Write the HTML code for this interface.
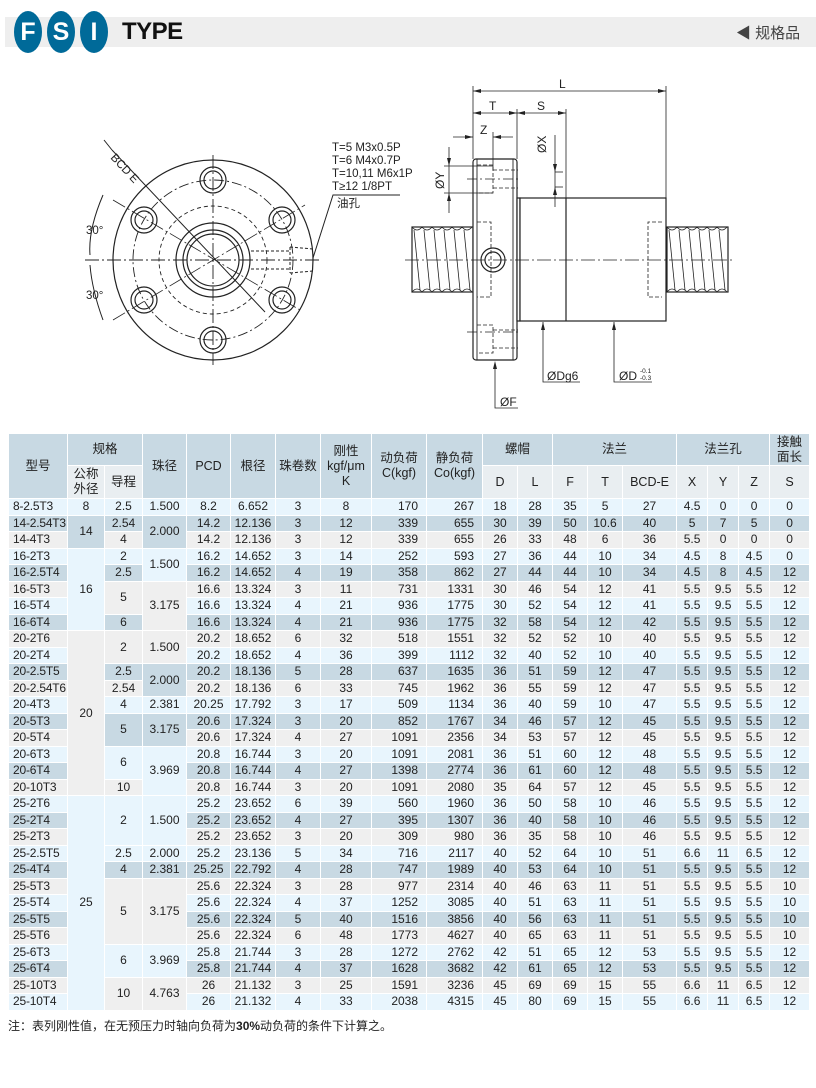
<!DOCTYPE html>
<html><head><meta charset="utf-8"><style>
*{margin:0;padding:0;box-sizing:border-box}
body{width:816px;height:1088px;background:#fff;position:relative;overflow:hidden;font-family:"Liberation Sans","Noto Sans CJK SC",sans-serif;color:#222}
.bar{position:absolute;left:5px;top:17px;width:811px;height:30px;background:#eeeeee}
.c{position:absolute;top:11px;width:28px;height:42px;border-radius:50%;background:#006a99;color:#fff;font-weight:bold;font-size:25px;text-align:center;line-height:42px}
.type{position:absolute;left:122px;top:18px;font-size:24px;font-weight:bold;color:#111;letter-spacing:-0.5px}
.gp{position:absolute;left:736px;top:22px;font-size:15px;color:#444}
table{position:absolute;left:8px;top:433px;border-collapse:collapse;table-layout:fixed;width:801px;font-size:12px}
td,th{border:1px solid #fff;text-align:center;padding:0;font-weight:normal;overflow:hidden;white-space:nowrap}
th{background:#c8d9e3;font-size:12.5px;line-height:15px;color:#222}
th.s{background:#e9eef1}
tr.b td{height:16.5px;line-height:15px}
.L{background:#e8f5fd}.D{background:#c8d9e3}.G{background:#efefef}
td.m{text-align:left;padding-left:4px;letter-spacing:-0.2px}
td.r{text-align:right;padding-right:8px}
.note{position:absolute;left:8px;top:1017px;font-size:12px;color:#222}
</style></head><body>
<div class="bar"></div>
<div class="c" style="left:14px">F</div>
<div class="c" style="left:47px">S</div>
<div class="c" style="left:80px">I</div>
<div class="type">TYPE</div>
<div class="gp">◀ 规格品</div>

<svg style="position:absolute;left:0;top:0" width="816" height="430" font-family="Liberation Sans, Noto Sans CJK SC, sans-serif">
<g fill="none" stroke="#222" stroke-width="1.2">
<circle cx="213" cy="260" r="100"/>
<circle cx="213" cy="260" r="80" stroke-dasharray="10,3,2,3" stroke-width="0.9"/>
<circle cx="213" cy="260" r="54" stroke-dasharray="4,3" stroke-width="0.9"/>
<circle cx="213" cy="260" r="37"/>
<circle cx="213" cy="260" r="30"/>
<circle cx="213" cy="260" r="26"/>
<g>
<circle cx="213" cy="180" r="13"/><circle cx="213" cy="180" r="9"/>
<circle cx="213" cy="340" r="13"/><circle cx="213" cy="340" r="9"/>
<circle cx="144" cy="220" r="13"/><circle cx="144" cy="220" r="9"/>
<circle cx="282" cy="220" r="13"/><circle cx="282" cy="220" r="9"/>
<circle cx="144" cy="300" r="13"/><circle cx="144" cy="300" r="9"/>
<circle cx="282" cy="300" r="13"/><circle cx="282" cy="300" r="9"/>
</g>
<line x1="85" y1="260" x2="320" y2="260" stroke-dasharray="14,3,2,3" stroke-width="0.9"/>
<line x1="213" y1="155" x2="213" y2="365" stroke-dasharray="14,3,2,3" stroke-width="0.9"/>
<line x1="113" y1="200" x2="300" y2="310" stroke-dasharray="14,3,2,3" stroke-width="0.8"/>
<line x1="113" y1="320" x2="305" y2="205" stroke-dasharray="14,3,2,3" stroke-width="0.8"/>
<line x1="112" y1="150" x2="265" y2="312" stroke-width="1"/>
<line x1="104" y1="140" x2="112" y2="150" stroke-width="1"/>
<path d="M103 195 Q88 230 90 255 M90 265 Q92 290 103 320" stroke-width="1"/>
<path d="M251 251 H290 M251 269 H290 M290 247 V273 M290 247 L313 249 M290 273 L313 271" stroke-dasharray="3,2" stroke-width="1"/>
<path d="M313 258 L333 195 H400" stroke-width="1"/>
</g>
<g font-size="11.5" fill="#222">
<text x="110" y="158" transform="rotate(47 110 158)">BCD E</text>
<text x="86" y="234">30°</text>
<text x="86" y="299">30°</text>
<text x="332" y="151">T=5  M3x0.5P</text>
<text x="332" y="164">T=6  M4x0.7P</text>
<text x="332" y="177">T=10,11  M6x1P</text>
<text x="332" y="190">T≥12  1/8PT</text>
<text x="337" y="207">油孔</text>
</g>
<g fill="none" stroke="#222" stroke-width="1.2">
<rect x="412" y="227" width="61" height="65" fill="#fff"/>
<rect x="667" y="227" width="61" height="65" fill="#fff"/>
<g stroke-width="0.8">
<path d="M414 230 L420 290 M424 230 L430 290 M434 230 L440 290 M444 230 L450 290 M454 230 L460 290 M464 230 L470 290"/>
<path d="M669 230 L675 290 M679 230 L685 290 M689 230 L695 290 M699 230 L705 290 M709 230 L715 290 M719 230 L725 290"/>
<path d="M412 227 q5 6 10 0 q5 6 10 0 q5 6 10 0 q5 6 10 0 q5 6 10 0 q5 6 10 0 M412 292 q5 -6 10 0 q5 -6 10 0 q5 -6 10 0 q5 -6 10 0 q5 -6 10 0 q5 -6 10 0"/>
<path d="M667 227 q5 6 10 0 q5 6 10 0 q5 6 10 0 q5 6 10 0 q5 6 10 0 q5 6 10 0 M667 292 q5 -6 10 0 q5 -6 10 0 q5 -6 10 0 q5 -6 10 0 q5 -6 10 0 q5 -6 10 0"/>
</g>
<rect x="473" y="159" width="44" height="201" rx="3" fill="#fff"/>
<rect x="517" y="198" width="3" height="123" fill="#fff"/>
<rect x="520" y="198" width="146" height="123" fill="#fff"/>
<line x1="566" y1="198" x2="566" y2="321"/>
<line x1="477" y1="159" x2="477" y2="360" stroke-width="0.9"/>
<line x1="513" y1="159" x2="513" y2="360" stroke-width="0.9"/>
<g stroke-dasharray="4,2" stroke-width="0.8">
<path d="M477 222 H491 V297 H477"/>
<path d="M662 222 H648 V297 H662"/>
<path d="M477 165 H493 V193 H477 M493 170 H518 M493 188 H518"/>
<path d="M477 325 H493 V353 H477 M493 330 H518 M493 348 H518"/>
</g>
<circle cx="493" cy="260" r="12"/><circle cx="493" cy="260" r="8"/>
<line x1="405" y1="260" x2="735" y2="260" stroke-dasharray="14,3,2,3" stroke-width="0.8"/>
<line x1="467" y1="179" x2="520" y2="179" stroke-dasharray="10,3,2,3" stroke-width="0.7"/>
<line x1="467" y1="332" x2="520" y2="332" stroke-dasharray="10,3,2,3" stroke-width="0.7"/>
<g stroke-width="0.8">
<line x1="473" y1="86" x2="473" y2="159"/>
<line x1="666" y1="86" x2="666" y2="198"/>
<line x1="473" y1="91" x2="666" y2="91"/>
<line x1="517" y1="109" x2="517" y2="159"/>
<line x1="566" y1="109" x2="566" y2="198"/>
<line x1="473" y1="113" x2="566" y2="113"/>
<line x1="493" y1="132" x2="493" y2="170"/>
<line x1="453" y1="137" x2="473" y2="137"/><line x1="493" y1="137" x2="513" y2="137"/>
<line x1="444" y1="166" x2="493" y2="166"/><line x1="444" y1="193" x2="493" y2="193"/>
<line x1="449" y1="147" x2="449" y2="213"/>
<line x1="555" y1="135" x2="555" y2="207"/>
<line x1="555" y1="172" x2="563" y2="172"/><line x1="555" y1="187" x2="563" y2="187"/>
<path d="M495 363 V408 H518"/>
<path d="M543 322 V382 H580"/>
<path d="M614 322 V382 H652"/>
</g>
<g fill="#222" stroke="none">
<path d="M473 91 l8 -2 v4z M666 91 l-8 -2 v4z M473 113 l8 -2 v4z M517 113 l-8 -2 v4z M517 113 l8 -2 v4z M566 113 l-8 -2 v4z"/>
<path d="M473 137 l-8 -2 v4z M493 137 l8 -2 v4z"/>
<path d="M449 166 l-2 -8 h4z M449 193 l-2 8 h4z M555 172 l-2 -8 h4z M555 187 l-2 8 h4z"/>
<path d="M495 361 l-2 8 h4z M543 322 l-2 8 h4z M614 322 l-2 8 h4z"/>
</g>
</g>
<g font-size="12" fill="#222">
<text x="559" y="88">L</text>
<text x="489" y="110">T</text>
<text x="537" y="110">S</text>
<text x="480" y="134">Z</text>
<text x="546" y="153" transform="rotate(-90 546 153)">ØX</text>
<text x="444" y="189" transform="rotate(-90 444 189)">ØY</text>
<text x="500" y="406">ØF</text>
<text x="547" y="380">ØDg6</text>
<text x="619" y="380">ØD</text>
<text x="640" y="373" font-size="6.5">-0.1</text>
<text x="640" y="380" font-size="6.5">-0.3</text>
</g>
</svg>

<table>
<colgroup><col style="width:59px"><col style="width:37px"><col style="width:38px"><col style="width:44px"><col style="width:44px"><col style="width:45px"><col style="width:45px"><col style="width:51px"><col style="width:55px"><col style="width:56px"><col style="width:35px"><col style="width:35px"><col style="width:35px"><col style="width:35px"><col style="width:54px"><col style="width:31px"><col style="width:31px"><col style="width:31px"><col style="width:40px"></colgroup>
<tr style="height:32px"><th rowspan="2">型号</th><th colspan="2">规格</th><th rowspan="2">珠径</th><th rowspan="2">PCD</th><th rowspan="2">根径</th><th rowspan="2">珠卷数</th><th rowspan="2">刚性<br>kgf/μm<br>K</th><th rowspan="2">动负荷<br>C(kgf)</th><th rowspan="2">静负荷<br>Co(kgf)</th><th colspan="2">螺帽</th><th colspan="3">法兰</th><th colspan="3">法兰孔</th><th>接触<br>面长</th></tr>
<tr style="height:33px"><th class="s">公称<br>外径</th><th class="s">导程</th><th class="s">D</th><th class="s">L</th><th class="s">F</th><th class="s">T</th><th class="s">BCD-E</th><th class="s">X</th><th class="s">Y</th><th class="s">Z</th><th class="s">S</th></tr>
<tr class="b L"><td class="m">8-2.5T3</td><td>8</td><td>2.5</td><td>1.500</td><td>8.2</td><td>6.652</td><td>3</td><td>8</td><td class="r">170</td><td class="r">267</td><td>18</td><td>28</td><td>35</td><td>5</td><td>27</td><td>4.5</td><td>0</td><td>0</td><td>0</td></tr>
<tr class="b D"><td class="m">14-2.54T3</td><td rowspan="2">14</td><td>2.54</td><td rowspan="2">2.000</td><td>14.2</td><td>12.136</td><td>3</td><td>12</td><td class="r">339</td><td class="r">655</td><td>30</td><td>39</td><td>50</td><td>10.6</td><td>40</td><td>5</td><td>7</td><td>5</td><td>0</td></tr>
<tr class="b G"><td class="m">14-4T3</td><td>4</td><td>14.2</td><td>12.136</td><td>3</td><td>12</td><td class="r">339</td><td class="r">655</td><td>26</td><td>33</td><td>48</td><td>6</td><td>36</td><td>5.5</td><td>0</td><td>0</td><td>0</td></tr>
<tr class="b L"><td class="m">16-2T3</td><td rowspan="5">16</td><td>2</td><td rowspan="2">1.500</td><td>16.2</td><td>14.652</td><td>3</td><td>14</td><td class="r">252</td><td class="r">593</td><td>27</td><td>36</td><td>44</td><td>10</td><td>34</td><td>4.5</td><td>8</td><td>4.5</td><td>0</td></tr>
<tr class="b D"><td class="m">16-2.5T4</td><td>2.5</td><td>16.2</td><td>14.652</td><td>4</td><td>19</td><td class="r">358</td><td class="r">862</td><td>27</td><td>44</td><td>44</td><td>10</td><td>34</td><td>4.5</td><td>8</td><td>4.5</td><td>12</td></tr>
<tr class="b G"><td class="m">16-5T3</td><td rowspan="2">5</td><td rowspan="3">3.175</td><td>16.6</td><td>13.324</td><td>3</td><td>11</td><td class="r">731</td><td class="r">1331</td><td>30</td><td>46</td><td>54</td><td>12</td><td>41</td><td>5.5</td><td>9.5</td><td>5.5</td><td>12</td></tr>
<tr class="b L"><td class="m">16-5T4</td><td>16.6</td><td>13.324</td><td>4</td><td>21</td><td class="r">936</td><td class="r">1775</td><td>30</td><td>52</td><td>54</td><td>12</td><td>41</td><td>5.5</td><td>9.5</td><td>5.5</td><td>12</td></tr>
<tr class="b D"><td class="m">16-6T4</td><td>6</td><td>16.6</td><td>13.324</td><td>4</td><td>21</td><td class="r">936</td><td class="r">1775</td><td>32</td><td>58</td><td>54</td><td>12</td><td>42</td><td>5.5</td><td>9.5</td><td>5.5</td><td>12</td></tr>
<tr class="b G"><td class="m">20-2T6</td><td rowspan="10">20</td><td rowspan="2">2</td><td rowspan="2">1.500</td><td>20.2</td><td>18.652</td><td>6</td><td>32</td><td class="r">518</td><td class="r">1551</td><td>32</td><td>52</td><td>52</td><td>10</td><td>40</td><td>5.5</td><td>9.5</td><td>5.5</td><td>12</td></tr>
<tr class="b L"><td class="m">20-2T4</td><td>20.2</td><td>18.652</td><td>4</td><td>36</td><td class="r">399</td><td class="r">1112</td><td>32</td><td>40</td><td>52</td><td>10</td><td>40</td><td>5.5</td><td>9.5</td><td>5.5</td><td>12</td></tr>
<tr class="b D"><td class="m">20-2.5T5</td><td>2.5</td><td rowspan="2">2.000</td><td>20.2</td><td>18.136</td><td>5</td><td>28</td><td class="r">637</td><td class="r">1635</td><td>36</td><td>51</td><td>59</td><td>12</td><td>47</td><td>5.5</td><td>9.5</td><td>5.5</td><td>12</td></tr>
<tr class="b G"><td class="m">20-2.54T6</td><td>2.54</td><td>20.2</td><td>18.136</td><td>6</td><td>33</td><td class="r">745</td><td class="r">1962</td><td>36</td><td>55</td><td>59</td><td>12</td><td>47</td><td>5.5</td><td>9.5</td><td>5.5</td><td>12</td></tr>
<tr class="b L"><td class="m">20-4T3</td><td>4</td><td>2.381</td><td>20.25</td><td>17.792</td><td>3</td><td>17</td><td class="r">509</td><td class="r">1134</td><td>36</td><td>40</td><td>59</td><td>10</td><td>47</td><td>5.5</td><td>9.5</td><td>5.5</td><td>12</td></tr>
<tr class="b D"><td class="m">20-5T3</td><td rowspan="2">5</td><td rowspan="2">3.175</td><td>20.6</td><td>17.324</td><td>3</td><td>20</td><td class="r">852</td><td class="r">1767</td><td>34</td><td>46</td><td>57</td><td>12</td><td>45</td><td>5.5</td><td>9.5</td><td>5.5</td><td>12</td></tr>
<tr class="b G"><td class="m">20-5T4</td><td>20.6</td><td>17.324</td><td>4</td><td>27</td><td class="r">1091</td><td class="r">2356</td><td>34</td><td>53</td><td>57</td><td>12</td><td>45</td><td>5.5</td><td>9.5</td><td>5.5</td><td>12</td></tr>
<tr class="b L"><td class="m">20-6T3</td><td rowspan="2">6</td><td rowspan="3">3.969</td><td>20.8</td><td>16.744</td><td>3</td><td>20</td><td class="r">1091</td><td class="r">2081</td><td>36</td><td>51</td><td>60</td><td>12</td><td>48</td><td>5.5</td><td>9.5</td><td>5.5</td><td>12</td></tr>
<tr class="b D"><td class="m">20-6T4</td><td>20.8</td><td>16.744</td><td>4</td><td>27</td><td class="r">1398</td><td class="r">2774</td><td>36</td><td>61</td><td>60</td><td>12</td><td>48</td><td>5.5</td><td>9.5</td><td>5.5</td><td>12</td></tr>
<tr class="b G"><td class="m">20-10T3</td><td>10</td><td>20.8</td><td>16.744</td><td>3</td><td>20</td><td class="r">1091</td><td class="r">2080</td><td>35</td><td>64</td><td>57</td><td>12</td><td>45</td><td>5.5</td><td>9.5</td><td>5.5</td><td>12</td></tr>
<tr class="b L"><td class="m">25-2T6</td><td rowspan="13">25</td><td rowspan="3">2</td><td rowspan="3">1.500</td><td>25.2</td><td>23.652</td><td>6</td><td>39</td><td class="r">560</td><td class="r">1960</td><td>36</td><td>50</td><td>58</td><td>10</td><td>46</td><td>5.5</td><td>9.5</td><td>5.5</td><td>12</td></tr>
<tr class="b D"><td class="m">25-2T4</td><td>25.2</td><td>23.652</td><td>4</td><td>27</td><td class="r">395</td><td class="r">1307</td><td>36</td><td>40</td><td>58</td><td>10</td><td>46</td><td>5.5</td><td>9.5</td><td>5.5</td><td>12</td></tr>
<tr class="b G"><td class="m">25-2T3</td><td>25.2</td><td>23.652</td><td>3</td><td>20</td><td class="r">309</td><td class="r">980</td><td>36</td><td>35</td><td>58</td><td>10</td><td>46</td><td>5.5</td><td>9.5</td><td>5.5</td><td>12</td></tr>
<tr class="b L"><td class="m">25-2.5T5</td><td>2.5</td><td>2.000</td><td>25.2</td><td>23.136</td><td>5</td><td>34</td><td class="r">716</td><td class="r">2117</td><td>40</td><td>52</td><td>64</td><td>10</td><td>51</td><td>6.6</td><td>11</td><td>6.5</td><td>12</td></tr>
<tr class="b D"><td class="m">25-4T4</td><td>4</td><td>2.381</td><td>25.25</td><td>22.792</td><td>4</td><td>28</td><td class="r">747</td><td class="r">1989</td><td>40</td><td>53</td><td>64</td><td>10</td><td>51</td><td>5.5</td><td>9.5</td><td>5.5</td><td>12</td></tr>
<tr class="b G"><td class="m">25-5T3</td><td rowspan="4">5</td><td rowspan="4">3.175</td><td>25.6</td><td>22.324</td><td>3</td><td>28</td><td class="r">977</td><td class="r">2314</td><td>40</td><td>46</td><td>63</td><td>11</td><td>51</td><td>5.5</td><td>9.5</td><td>5.5</td><td>10</td></tr>
<tr class="b L"><td class="m">25-5T4</td><td>25.6</td><td>22.324</td><td>4</td><td>37</td><td class="r">1252</td><td class="r">3085</td><td>40</td><td>51</td><td>63</td><td>11</td><td>51</td><td>5.5</td><td>9.5</td><td>5.5</td><td>10</td></tr>
<tr class="b D"><td class="m">25-5T5</td><td>25.6</td><td>22.324</td><td>5</td><td>40</td><td class="r">1516</td><td class="r">3856</td><td>40</td><td>56</td><td>63</td><td>11</td><td>51</td><td>5.5</td><td>9.5</td><td>5.5</td><td>10</td></tr>
<tr class="b G"><td class="m">25-5T6</td><td>25.6</td><td>22.324</td><td>6</td><td>48</td><td class="r">1773</td><td class="r">4627</td><td>40</td><td>65</td><td>63</td><td>11</td><td>51</td><td>5.5</td><td>9.5</td><td>5.5</td><td>10</td></tr>
<tr class="b L"><td class="m">25-6T3</td><td rowspan="2">6</td><td rowspan="2">3.969</td><td>25.8</td><td>21.744</td><td>3</td><td>28</td><td class="r">1272</td><td class="r">2762</td><td>42</td><td>51</td><td>65</td><td>12</td><td>53</td><td>5.5</td><td>9.5</td><td>5.5</td><td>12</td></tr>
<tr class="b D"><td class="m">25-6T4</td><td>25.8</td><td>21.744</td><td>4</td><td>37</td><td class="r">1628</td><td class="r">3682</td><td>42</td><td>61</td><td>65</td><td>12</td><td>53</td><td>5.5</td><td>9.5</td><td>5.5</td><td>12</td></tr>
<tr class="b G"><td class="m">25-10T3</td><td rowspan="2">10</td><td rowspan="2">4.763</td><td>26</td><td>21.132</td><td>3</td><td>25</td><td class="r">1591</td><td class="r">3236</td><td>45</td><td>69</td><td>69</td><td>15</td><td>55</td><td>6.6</td><td>11</td><td>6.5</td><td>12</td></tr>
<tr class="b L"><td class="m">25-10T4</td><td>26</td><td>21.132</td><td>4</td><td>33</td><td class="r">2038</td><td class="r">4315</td><td>45</td><td>80</td><td>69</td><td>15</td><td>55</td><td>6.6</td><td>11</td><td>6.5</td><td>12</td></tr>
</table>
<div class="note">注：表列刚性值，在无预压力时轴向负荷为<b>30%</b>动负荷的条件下计算之。</div>
</body></html>
